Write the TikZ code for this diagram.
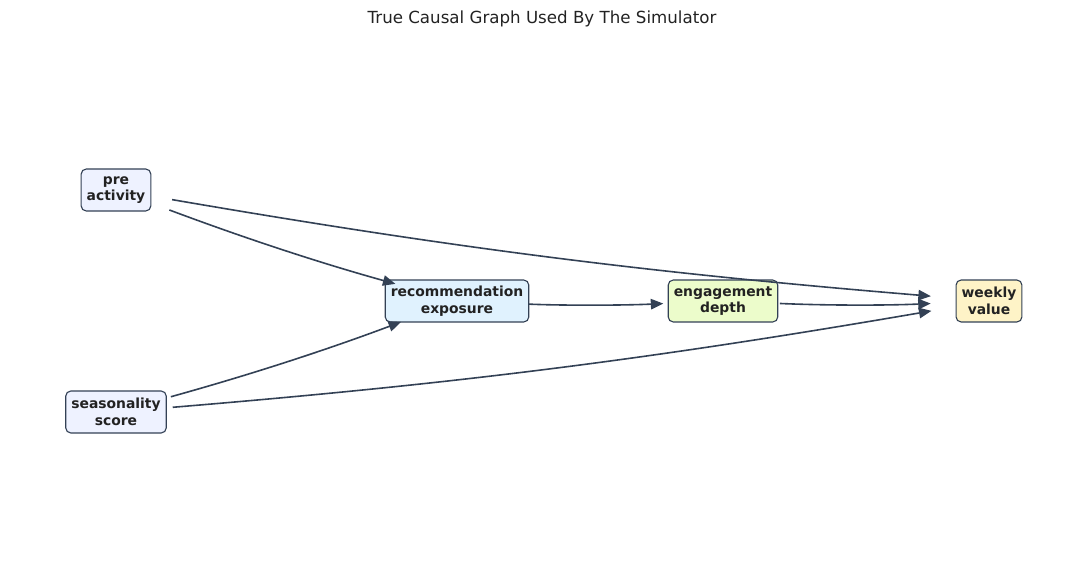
\documentclass[tikz,border=0pt]{standalone}
\usepackage{fontspec}
\setmainfont{DejaVu Sans}
\usetikzlibrary{arrows.meta,positioning}
\definecolor{slateline}{HTML}{334155}
\definecolor{textdark}{HTML}{222222}
\definecolor{indigofill}{HTML}{EEF2FF}
\definecolor{skyfill}{HTML}{E0F2FE}
\definecolor{limefill}{HTML}{ECFCCB}
\definecolor{amberfill}{HTML}{FEF3C7}
\tikzset{
	varbox/.style={rectangle,rounded corners=3.6pt,draw=slateline,line width=0.8pt,align=center,text=textdark,font=\fontsize{10}{12}\selectfont\bfseries,inner xsep=4pt,inner ysep=2pt,minimum height=30.2pt},
	diredge/.style={->,>={Triangle[width=7.5pt,length=9pt]},color=slateline,line width=1.15pt,bend right=2.5},
	titlelabel/.style={font=\fontsize{12}{14}\selectfont,text=textdark}
}
\begin{document}
\begin{tikzpicture}[x=0.72pt,y=-0.72pt]
				\useasboundingbox (0,0) rectangle (1084,564);
				%%%title
				\node[titlelabel] (title) at (542,19) {True Causal Graph Used By The Simulator};
				
				%%%% nodes
				\node[varbox,fill=indigofill] (pre) at (116,190) {pre\\activity};
				\node[varbox,fill=indigofill] (season) at (116,412) {seasonality\\score};
				\node[varbox,fill=skyfill] (rec) at (457,301) {recommendation\\exposure};
				\node[varbox,fill=limefill] (engage) at (723,301) {engagement\\depth};
				\node[varbox,fill=amberfill] (weekly) at (989,301) {weekly\\value};
				
				%%%% edges
				\draw
				(pre.center) edge[diredge,shorten <=41pt,shorten >=46pt] (rec.center)
				(pre.center) edge[diredge,shorten <=41pt,shorten >=42pt] (weekly.center)
				(season.center) edge[diredge,shorten <=41pt,shorten >=43pt] (rec.center)
				(season.center) edge[diredge,shorten <=41pt,shorten >=42pt] (weekly.center)
				(rec.center) edge[diredge,shorten <=52pt,shorten >=43pt] (engage.center)
				(engage.center) edge[diredge,shorten <=41pt,shorten >=42pt] (weekly.center);
				
\end{tikzpicture}
\end{document}
